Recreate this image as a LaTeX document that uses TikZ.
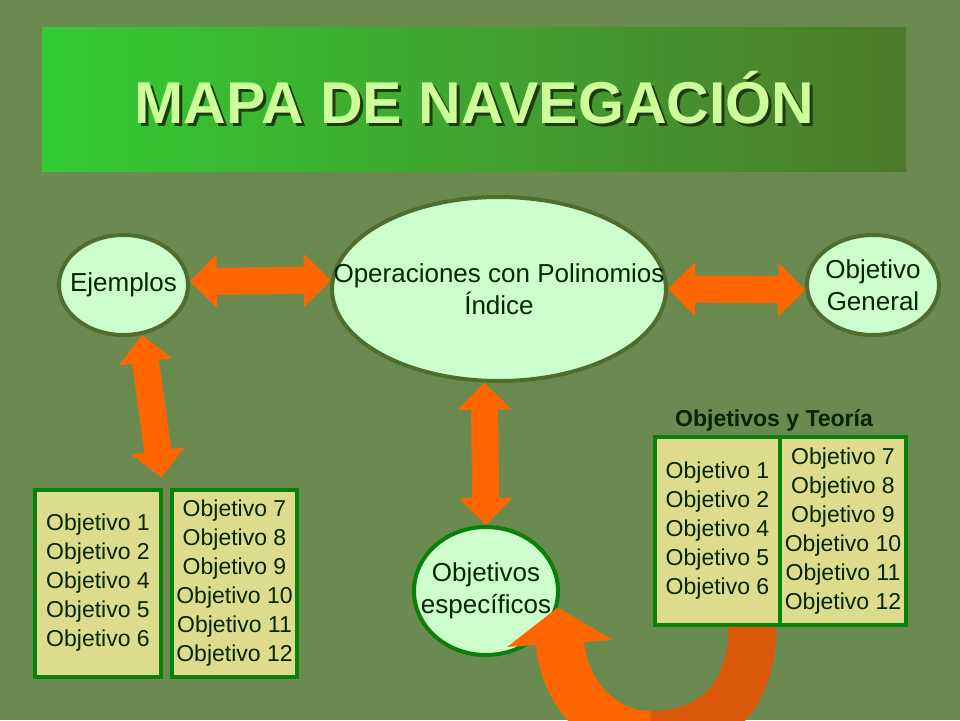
\documentclass[tikz,border=0pt]{standalone}
\usepackage{fontspec}
\setmainfont{Liberation Sans}
\usetikzlibrary{arrows.meta,shapes.geometric,positioning}

\definecolor{bgolive}{HTML}{6B8A4F}
\definecolor{titleL}{HTML}{33CC33}
\definecolor{titleR}{HTML}{4D7A2B}
\definecolor{titletext}{HTML}{CCFF99}
\definecolor{titleshade}{HTML}{1E3A0E}
\definecolor{bubblefill}{HTML}{CCFFCC}
\definecolor{edgeolive}{HTML}{4F6E2E}
\definecolor{boxgreen}{HTML}{0A800A}
\definecolor{boxfill}{HTML}{DCDC8C}
\definecolor{txtgreen}{HTML}{042604}
\definecolor{arrorange}{HTML}{FF6600}
\definecolor{arrdark}{HTML}{D9580A}

\begin{document}
\begin{tikzpicture}[x=1pt,y=-1pt,
  bubble/.style={ellipse, draw=edgeolive, line width=4pt, fill=bubblefill, inner sep=0pt},
  bubbletxt/.style={align=center, text=txtgreen, inner sep=0pt, font=\fontsize{26}{32}\selectfont},
  goalbox/.style={rectangle, draw=boxgreen, line width=4pt, fill=boxfill, inner sep=0pt,
    minimum width=125pt, minimum height=187pt, align=center, text=txtgreen,
    font=\fontsize{23}{29}\selectfont},
  twoway/.style={draw=arrorange, line width=27pt,
    {Triangle[width=52pt,length=27pt]}-{Triangle[width=52pt,length=27pt]}},
  loopline/.style={line width=48pt}
]
\useasboundingbox (0,0) rectangle (960,720);
\fill[bgolive] (0,0) rectangle (960,720);

% title
\node[minimum width=864pt, minimum height=144pt, inner sep=0pt,
  left color=titleL, right color=titleR] (bar) at (474,99) {};
\node[anchor=base, text=titleshade, font=\bfseries\fontsize{59}{59}\selectfont] (titleshadow) at (477.5,126) {MAPA DE NAVEGACIÓN};
\node[anchor=base, text=titletext, font=\bfseries\fontsize{59}{59}\selectfont] (title) at (474.5,123) {MAPA DE NAVEGACIÓN};

% ellipses
\node[bubble, minimum width=129pt, minimum height=100pt] (ej) at (123.5,285) {};
\node[bubbletxt] (ejt) at (ej) {Ejemplos};

\node[bubble, minimum width=334pt, minimum height=184pt] (op) at (499,289) {};
\node[bubbletxt] (opt) at (op) {Operaciones con Polinomios\\Índice};

\node[bubble, minimum width=132pt, minimum height=100pt] (og) at (873,285) {};
\node[bubbletxt] (ogt) at (og) {Objetivo\\General};

\node[bubble, draw=boxgreen, minimum width=144pt, minimum height=128pt] (esp) at (486,591) {};
\node[bubbletxt] (espt) at (esp) {Objetivos\\específicos};

% boxes
\node[goalbox, minimum width=126pt] (lb1) at (98,583) {Objetivo 1\\Objetivo 2\\Objetivo 4\\Objetivo 5\\Objetivo 6};
\node[goalbox, right=7pt of lb1] (lb2) {Objetivo 7\\Objetivo 8\\Objetivo 9\\Objetivo 10\\Objetivo 11\\Objetivo 12};

\node[goalbox, minimum height=188pt] (rb1) at (717.5,531) {Objetivo 1\\Objetivo 2\\Objetivo 4\\Objetivo 5\\Objetivo 6};
\node[goalbox, minimum width=126pt, minimum height=188pt, right=-4pt of rb1] (rb2) {Objetivo 7\\Objetivo 8\\Objetivo 9\\Objetivo 10\\Objetivo 11\\Objetivo 12};
\node[text=txtgreen, font=\bfseries\fontsize{23}{29}\selectfont] (teoria) at (774,420) {Objetivos y Teoría};

% arrows
\path
    (ej.3) edge[twoway] (op.177)
    (op.east) edge[twoway] (og.184)
    (ej.-70) edge[twoway, shorten >=10pt] (lb1.north east)
    (op.-99) edge[twoway] (esp.north);

\coordinate (loopbot) at (650,735);
\draw[loopline, draw=arrdark] (rb1.-70) .. controls (752,700) and (710,735) .. (loopbot);
\draw[loopline, draw=arrorange, -{Triangle[width=104pt,length=36pt]}]
    (loopbot) .. controls (600,735) and (563,690) .. (esp.-13);
\end{tikzpicture}
\end{document}
